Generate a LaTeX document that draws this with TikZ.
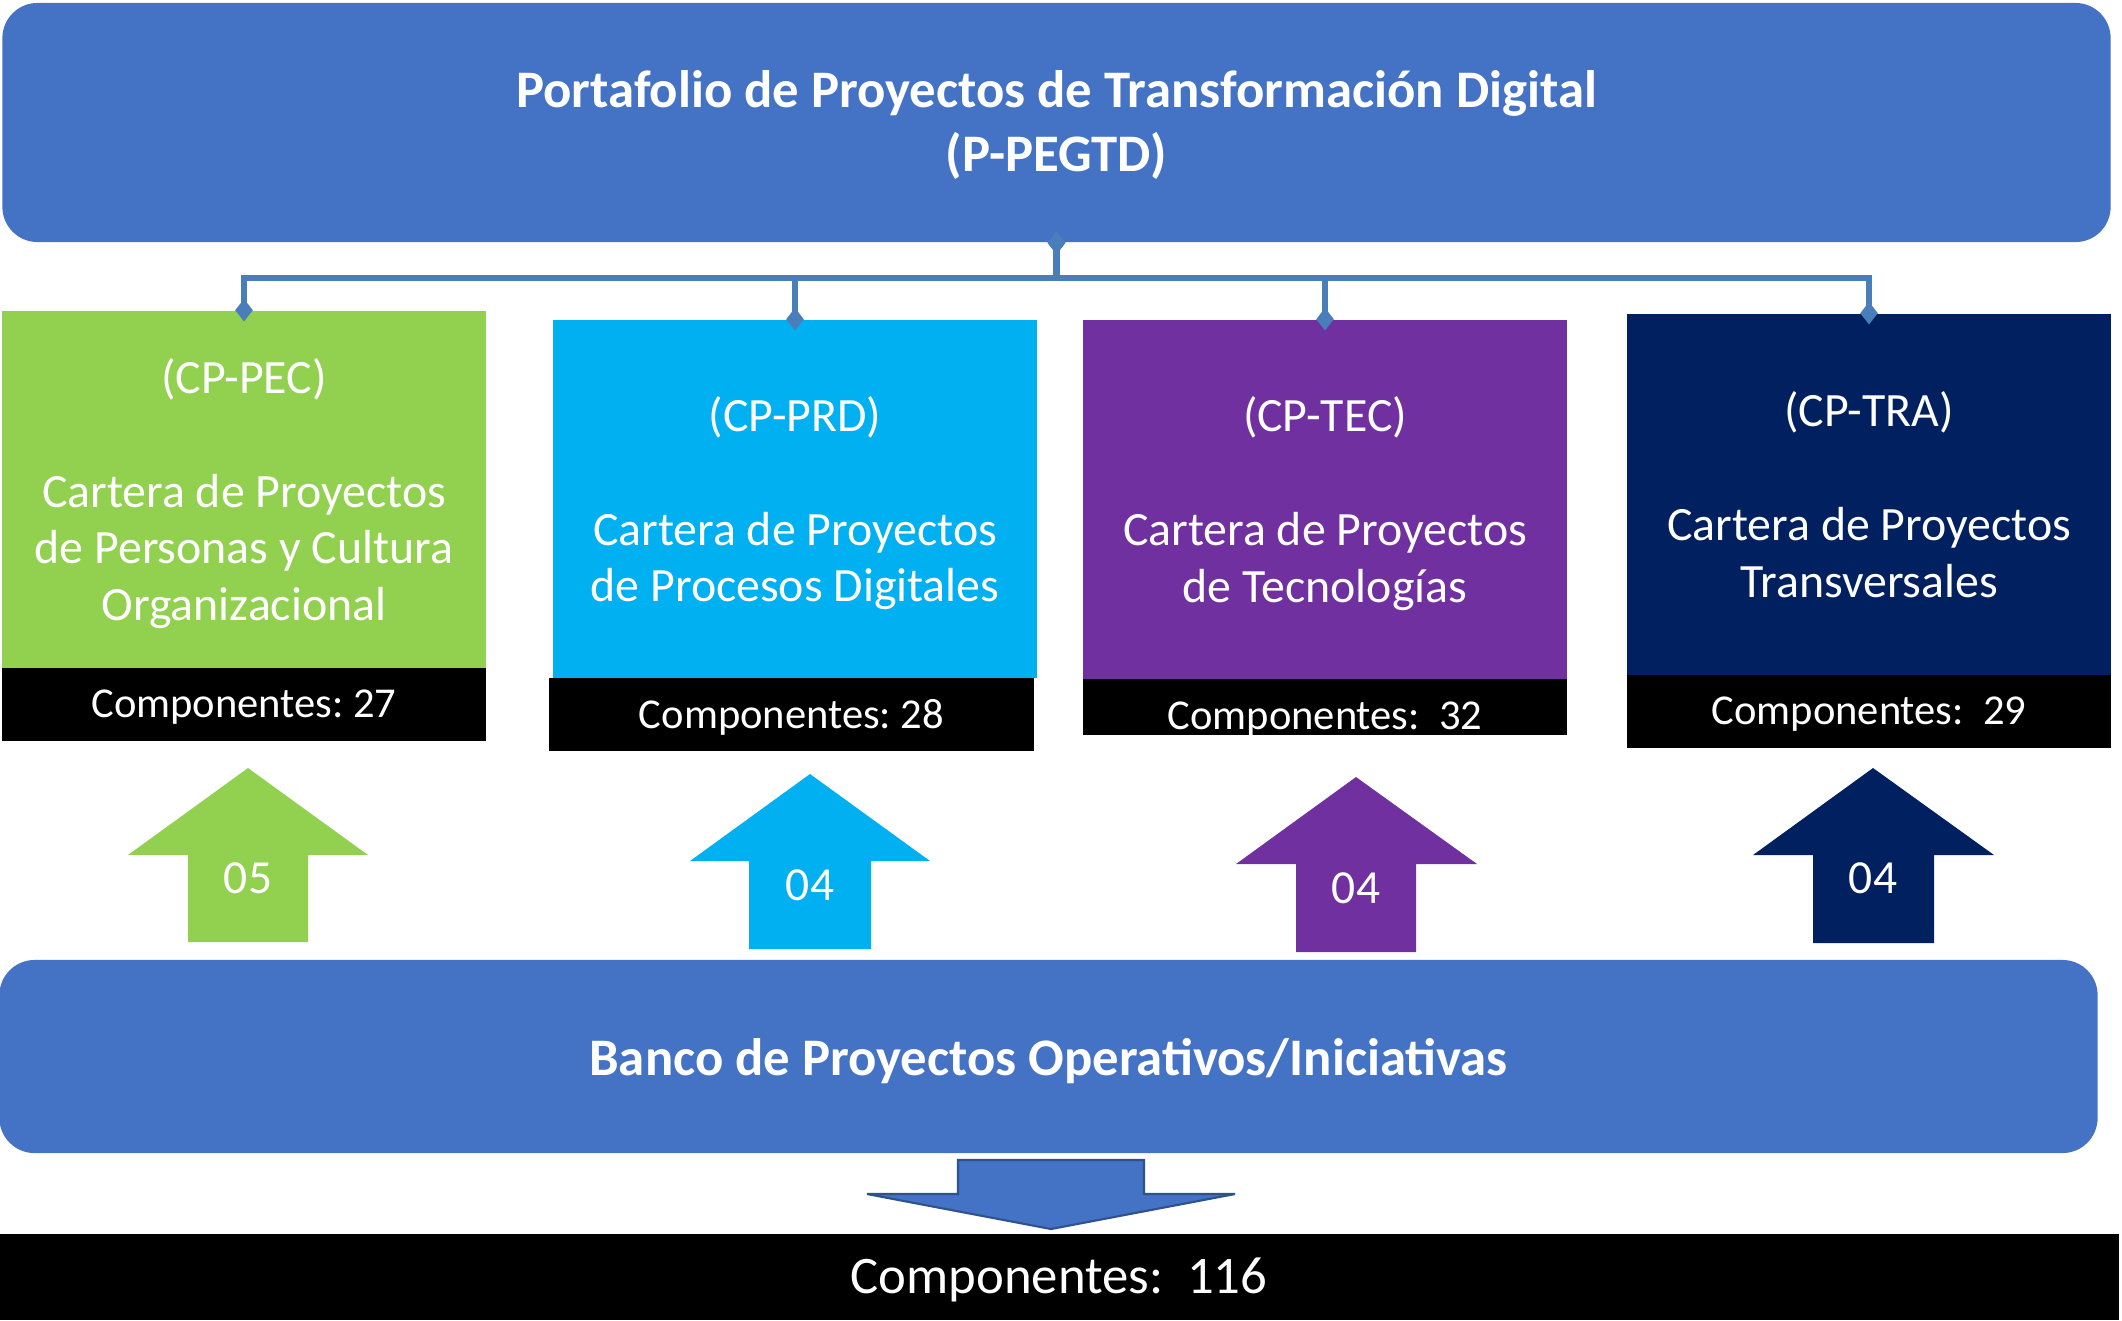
\documentclass[tikz,border=0pt]{standalone}
\usepackage{fontspec}
\setmainfont{Carlito}
\usepackage{tikz}
\usetikzlibrary{arrows.meta}
\frenchspacing

\definecolor{PortBlue}{HTML}{4472C4}
\definecolor{PortEdge}{HTML}{2F528F}
\definecolor{LinkBlue}{HTML}{4A7EBB}
\definecolor{PecGreen}{HTML}{92D050}
\definecolor{PrdCyan}{HTML}{00B0F0}
\definecolor{TecPurple}{HTML}{7030A0}
\definecolor{TraNavy}{HTML}{002060}

\begin{document}
\begin{tikzpicture}[x=0.01cm, y=-0.01cm,
   cartera/.style={fill=#1, text=white, align=center, inner sep=0pt, minimum width=4.84cm,
     text depth=0pt, font=\fontsize{13.6}{16.2}\selectfont},
   comp/.style={fill=black, text=white, inner sep=0pt, minimum width=4.84cm,
     text depth=0.2pt, font=\fontsize{12.1}{14.5}\selectfont},
   num/.style={text=white, inner sep=0pt, font=\fontsize{13.5}{16}\selectfont},
   link/.style={draw=LinkBlue, line width=1.8pt,
     {Diamond[length=6.4pt,width=5pt]}-{Diamond[length=6.4pt,width=5pt]},
     shorten <=-3.2pt, shorten >=-3.2pt}]
   \useasboundingbox (0,0) rectangle (2122,1320);
   % portfolio on top
   \node[fill=PortBlue, rounded corners=10pt, minimum width=21.07cm, minimum height=2.39cm,
     text=white, align=center, text depth=0.8pt, font=\fontsize{15}{18.2}\bfseries] (top) at (1056.5,122.5)
     {Portafolio de Proyectos de Transformación Digital\\(P-PEGTD)};
   % the four portfolios
   \node[cartera=PecGreen, minimum height=3.57cm] (pec) at (244,489.5)
     {(CP-PEC)\\[16.2pt]Cartera de Proyectos\\de Personas y Cultura\\Organizacional};
   \node[cartera=PrdCyan, minimum height=3.58cm] (prd) at (795,499)
     {(CP-PRD)\\[16.2pt]Cartera de Proyectos\\de Procesos Digitales};
   \node[cartera=TecPurple, minimum height=3.59cm] (tec) at (1325,499.5)
     {(CP-TEC)\\[16.2pt]Cartera de Proyectos\\de Tecnologías};
   \node[cartera=TraNavy, minimum height=3.61cm] (tra) at (1869,494.5)
     {(CP-TRA)\\[16.2pt]Cartera de Proyectos\\Transversales};
   \node[comp, minimum height=0.73cm] (pecn) at (244,704.5) {Componentes: 27};
   \node[comp, minimum height=0.73cm] (prdn) at (791.5,714.5) {Componentes: 28};
   \node[comp, minimum height=0.56cm, text height=13pt] (tecn) at (1325,707) {Componentes:~ 32};
   \node[comp, minimum height=0.73cm] (tran) at (1869,711.5) {Componentes:~ 29};
   % org chart lines
   \coordinate (bus) at (1056,278);
   \draw[link] (top.south) -- (top.south |- bus) -| (pec.north);
   \draw[link] (top.south) -- (top.south |- bus) -| (prd.north);
   \draw[link] (top.south) -- (top.south |- bus) -| (tec.north);
   \draw[link] (top.south) -- (top.south |- bus) -| (tra.north);
   % block arrows going up
   \fill[PecGreen] (188,942) -- (188,855) -- (128,855) -- (248,768) -- (368,855) -- (308,855) -- (308,942) -- cycle;
   \node[num] (a05) at (248,878) {05};
   \fill[PrdCyan] (749,949) -- (749,861) -- (690,861) -- (810,774) -- (930,861) -- (871,861) -- (871,949) -- cycle;
   \node[num] (a04p) at (810,885) {04};
   \fill[TecPurple] (1296,952) -- (1296,864) -- (1236,864) -- (1356,777) -- (1477,864) -- (1416,864) -- (1416,952) -- cycle;
   \node[num] (a04t) at (1356,888) {04};
   \fill[TraNavy] (1813,943) -- (1813,855) -- (1753,855) -- (1873,768) -- (1994,855) -- (1934,855) -- (1934,943) -- cycle;
   \node[num] (a04r) at (1873,878) {04};
   % bank and total
   \node[fill=PortBlue, rounded corners=10pt, minimum width=20.97cm, minimum height=1.93cm,
     text=white, text depth=0pt, font=\fontsize{15}{18.2}\bfseries] (bank) at (1048.5,1056.5)
     {Banco de Proyectos Operativos/Iniciativas};
   \draw[fill=PortBlue, draw=PortEdge, line width=0.6pt] (958,1160) -- (1144,1160) -- (1144,1194) -- (1235,1194)
     -- (1051,1229) -- (867,1194) -- (958,1194) -- cycle;
   \node[fill=black, text=white, inner sep=0pt, minimum width=21.18cm, minimum height=0.86cm,
     text depth=0.8pt, font=\fontsize{15}{18}\selectfont] (total) at (1059,1277) {Componentes:~ 116};
\end{tikzpicture}
\end{document}
